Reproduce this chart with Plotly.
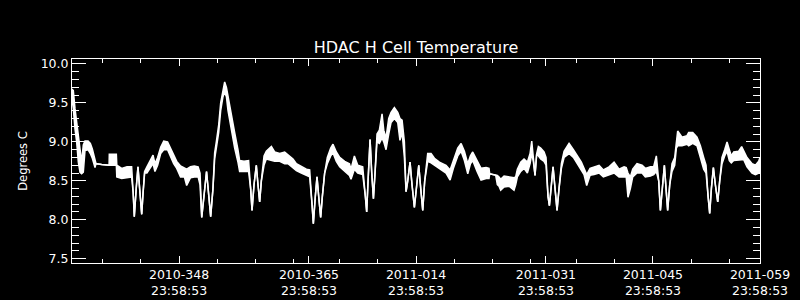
import pandas as pd
import plotly.graph_objects as go

# ---- data ----
# time offset in days from 2010-334 23:58:53, lower and upper envelope of the trace (deg C)
day_offset = [0.00, 0.17, 0.39, 0.61, 0.83, 1.05, 1.26, 1.48, 1.70, 2.10, 2.40, 2.66, 3.01, 3.14, 3.88, 4.85,
              4.88, 5.80, 5.86, 6.50, 7.20, 7.80, 8.00, 8.15, 8.40, 8.63, 8.85, 9.12, 9.30, 9.50, 9.80, 10.30,
              10.60, 10.85, 11.20, 11.60, 12.00, 12.50, 12.90, 13.30, 13.70, 14.20, 14.70, 15.00, 15.50, 16.00,
              16.50, 16.75, 16.97, 17.30, 17.60, 17.90, 18.14, 18.44, 18.66, 18.88, 19.19, 19.45, 19.75, 19.97,
              20.20, 20.41, 20.84, 21.28, 21.71, 21.93, 22.50, 23.10, 23.37, 23.55, 23.81, 24.11, 24.33, 24.55,
              24.77, 25.12, 25.42, 26.08, 26.51, 27.17, 27.82, 28.26, 28.91, 29.35, 30.00, 30.66, 31.09, 31.40,
              31.57, 31.83, 32.05, 32.27, 32.53, 32.75, 33.05, 33.40, 33.84, 34.14, 34.58, 35.02, 35.67, 36.29,
              36.50, 36.94, 37.38, 38.03, 38.38, 38.55, 38.73, 38.99, 39.21, 39.43, 39.64, 39.90, 40.21, 40.56,
              40.78, 41.08, 41.43, 41.74, 42.17, 42.61, 42.90, 43.18, 43.48, 43.70, 43.92, 44.22, 44.48, 44.79,
              45.10, 45.36, 45.62, 45.88, 46.14, 46.53, 46.97, 47.41, 48.06, 48.93, 49.46, 49.89, 50.46, 50.90,
              51.33, 51.77, 52.12, 52.42, 52.99, 53.51, 54.17, 54.55, 54.64, 55.43, 55.64, 55.86, 56.08, 56.52,
              57.17, 57.82, 58.04, 58.26, 58.70, 59.13, 59.57, 59.92, 60.14, 60.35, 60.57, 60.79, 61.01, 61.31,
              61.75, 62.01, 62.27, 62.45, 62.67, 62.93, 63.19, 63.45, 63.71, 64.02, 64.37, 65.02, 65.59, 66.11,
              66.63, 66.98, 67.33, 67.77, 68.29, 68.95, 69.51, 70.25, 70.91, 71.56, 72.22, 72.50, 72.73, 73.04,
              73.35, 73.91, 74.57, 75.00, 75.66, 76.09, 76.44, 76.75, 76.97, 77.18, 77.49, 77.71, 77.92, 78.19,
              78.49, 78.84, 79.06, 79.23, 79.80, 80.45, 80.67, 81.20, 81.76, 82.20, 82.63, 82.94, 83.20, 83.42,
              83.64, 83.90, 84.16, 84.47, 84.73, 85.03, 85.38, 85.69, 85.99, 86.25, 86.56, 87.21, 87.60, 87.87,
              88.30, 88.96, 89.40, 89.83, 90.00]

temp_low = [9.55, 9.43, 9.17, 9.00, 8.74, 8.61, 8.59, 8.61, 8.89, 8.90, 8.85, 8.79, 8.67, 8.72, 8.71, 8.70,
            8.70, 8.70, 8.55, 8.53, 8.54, 8.55, 8.35, 8.04, 8.40, 8.68, 8.40, 8.07, 8.35, 8.60, 8.60, 8.68,
            8.72, 8.62, 8.70, 8.85, 8.90, 8.90, 8.80, 8.72, 8.66, 8.55, 8.55, 8.44, 8.54, 8.55,
            8.55, 8.45, 8.03, 8.35, 8.62, 8.30, 8.04, 8.40, 8.78, 8.92, 9.12, 9.40, 9.58, 9.64,
            9.58, 9.40, 9.14, 8.92, 8.74, 8.62, 8.62, 8.62, 8.40, 8.12, 8.45, 8.70, 8.45, 8.23,
            8.50, 8.70, 8.78, 8.76, 8.75, 8.75, 8.72, 8.72, 8.67, 8.63, 8.60, 8.57, 8.55, 8.20,
            7.95, 8.30, 8.55, 8.30, 8.03, 8.30, 8.60, 8.72, 8.82, 8.86, 8.75, 8.68, 8.63, 8.57,
            8.52, 8.65, 8.60, 8.58, 8.30, 8.10, 8.50, 9.03, 8.60, 8.27, 8.60, 9.00, 8.98, 9.05,
            9.00, 8.90, 9.10, 9.25, 9.30, 9.25, 9.02, 9.12, 8.80, 8.36, 8.50, 8.74, 8.45, 8.16,
            8.45, 8.70, 8.40, 8.12, 8.50, 8.75, 8.73, 8.70, 8.66, 8.60, 8.51, 8.66, 8.82, 8.88,
            8.76, 8.59, 8.72, 8.76, 8.62, 8.51, 8.53, 8.53, 8.59, 8.57, 8.45, 8.43, 8.38, 8.42,
            8.43, 8.38, 8.45, 8.55, 8.62, 8.66, 8.60, 8.72, 8.85, 8.75, 8.57, 8.85, 8.82, 8.78,
            8.75, 8.70, 8.30, 8.18, 8.40, 8.68, 8.40, 8.12, 8.40, 8.66, 8.80, 8.85, 8.80, 8.72,
            8.64, 8.58, 8.44, 8.57, 8.58, 8.60, 8.55, 8.58, 8.60, 8.55, 8.55, 8.55, 8.29, 8.40,
            8.55, 8.60, 8.60, 8.55, 8.56, 8.58, 8.62, 8.50, 8.12, 8.35, 8.70, 8.40, 8.12, 8.45,
            8.62, 8.70, 8.92, 8.95, 8.95, 8.97, 8.95, 8.98, 8.95, 8.80, 8.65, 8.60, 8.30, 8.08,
            8.40, 8.67, 8.45, 8.23, 8.50, 8.72, 8.82, 8.88, 8.76, 8.73, 8.76, 8.77, 8.77, 8.77,
            8.68, 8.60, 8.58, 8.60, 8.62]

temp_high = [9.68, 9.66, 9.43, 9.26, 9.11, 8.91, 8.74, 8.96, 9.01, 9.01, 8.98, 8.91, 8.74, 8.72, 8.71, 8.70,
             8.84, 8.84, 8.70, 8.66, 8.68, 8.68, 8.35, 8.04, 8.40, 8.68, 8.40, 8.07, 8.35, 8.62, 8.68, 8.78,
             8.83, 8.72, 8.80, 8.93, 9.01, 9.00, 8.92, 8.85, 8.75, 8.69, 8.67, 8.65, 8.68, 8.69,
             8.68, 8.60, 8.03, 8.35, 8.62, 8.30, 8.04, 8.40, 8.86, 9.00, 9.22, 9.50, 9.68, 9.77,
             9.70, 9.58, 9.32, 9.12, 8.90, 8.76, 8.75, 8.76, 8.40, 8.12, 8.45, 8.70, 8.45, 8.23,
             8.50, 8.82, 8.88, 8.94, 8.87, 8.85, 8.87, 8.83, 8.78, 8.72, 8.68, 8.65, 8.64, 8.20,
             7.95, 8.30, 8.55, 8.30, 8.03, 8.30, 8.60, 8.80, 8.92, 8.97, 8.87, 8.80, 8.75, 8.72,
             8.65, 8.82, 8.70, 8.68, 8.30, 8.10, 8.50, 9.03, 8.60, 8.27, 8.60, 9.10, 9.15, 9.36,
             9.15, 9.05, 9.30, 9.38, 9.44, 9.38, 9.30, 9.28, 9.00, 8.36, 8.50, 8.74, 8.45, 8.16,
             8.45, 8.70, 8.40, 8.12, 8.50, 8.85, 8.85, 8.79, 8.74, 8.70, 8.64, 8.76, 8.92, 8.98,
             8.88, 8.72, 8.82, 8.87, 8.75, 8.66, 8.67, 8.66, 8.59, 8.57, 8.57, 8.55, 8.52, 8.56,
             8.55, 8.54, 8.55, 8.65, 8.74, 8.78, 8.74, 8.85, 9.01, 8.75, 8.57, 8.85, 8.94, 8.92,
             8.87, 8.80, 8.30, 8.18, 8.40, 8.68, 8.40, 8.12, 8.40, 8.72, 8.88, 8.98, 8.90, 8.82,
             8.74, 8.66, 8.58, 8.66, 8.68, 8.70, 8.64, 8.68, 8.74, 8.65, 8.68, 8.67, 8.60, 8.55,
             8.65, 8.72, 8.70, 8.66, 8.68, 8.68, 8.82, 8.50, 8.12, 8.35, 8.70, 8.40, 8.12, 8.45,
             8.72, 8.80, 9.05, 9.14, 9.06, 9.08, 9.12, 9.12, 9.06, 8.95, 8.80, 8.70, 8.30, 8.08,
             8.40, 8.67, 8.45, 8.23, 8.50, 8.80, 8.90, 9.00, 8.90, 8.82, 8.87, 8.88, 8.94, 8.88,
             8.80, 8.72, 8.70, 8.75, 8.80]

# axis definitions
start_time = "2010-11-30 23:58:53"       # 2010-334 23:58:53
major_tick_days = [14, 31, 45, 62, 76, 90]
major_tick_text = ["2010-348<br>23:58:53", "2010-365<br>23:58:53", "2011-014<br>23:58:53",
                   "2011-031<br>23:58:53", "2011-045<br>23:58:53", "2011-059<br>23:58:53"]
minor_tick_days = [4, 9, 19, 24, 29, 35, 40, 50, 55, 60, 66, 71, 81, 86]
y_tick_values = [7.5, 8.0, 8.5, 9.0, 9.5, 10.0]

t0 = pd.Timestamp(start_time)
x = t0 + pd.to_timedelta(day_offset, unit="D")
major_ticks = t0 + pd.to_timedelta(major_tick_days, unit="D")
minor_ticks = t0 + pd.to_timedelta(minor_tick_days, unit="D")

FONT = "DejaVu Sans"
fig = go.Figure()
fig.add_trace(go.Scatter(x=x, y=temp_low, mode="lines",
                         line=dict(color="white", width=1.5), hoverinfo="skip"))
fig.add_trace(go.Scatter(x=x, y=temp_high, mode="lines", fill="tonexty", fillcolor="white",
                         line=dict(color="white", width=1.5), hoverinfo="skip"))

fig.update_layout(
    width=800, height=300,
    margin=dict(l=72, r=40, t=59, b=37),
    paper_bgcolor="black", plot_bgcolor="black",
    showlegend=False,
    font=dict(family=FONT, color="white"),
    title=dict(text="HDAC H Cell Temperature", x=0.52, xanchor="center",
               y=1 - 47 / 300, yref="container", yanchor="middle",
               font=dict(family=FONT, size=16, color="white"), automargin=False),
    xaxis=dict(type="date", range=[t0, major_ticks[-1]], automargin=False,
               tickmode="array", tickvals=list(major_ticks), ticktext=major_tick_text,
               ticks="inside", ticklen=7, tickwidth=1, tickcolor="white",
               showline=True, linecolor="white", linewidth=1, mirror="allticks",
               showgrid=False, zeroline=False,
               tickfont=dict(family=FONT, size=12.5, color="white"),
               minor=dict(tickmode="array", tickvals=list(minor_ticks), ticks="inside",
                          ticklen=4, tickwidth=1, tickcolor="white", showgrid=False)),
    yaxis=dict(range=[7.445, 10.064], tickmode="array", tickvals=y_tick_values,
               ticktext=[f"{v:.1f}" for v in y_tick_values], automargin=False,
               ticks="inside", ticklen=14, tickwidth=1, tickcolor="white",
               showline=True, linecolor="white", linewidth=1, mirror="allticks",
               showgrid=False, zeroline=False,
               tickfont=dict(family=FONT, size=12.5, color="white"),
               title=dict(text="Degrees C", standoff=10,
                          font=dict(family=FONT, size=11.5, color="white")),
               minor=dict(dtick=0.1, tick0=7.5, ticks="inside", ticklen=7, tickwidth=1,
                          tickcolor="white", showgrid=False)),
)

fig.write_html("out.html")
